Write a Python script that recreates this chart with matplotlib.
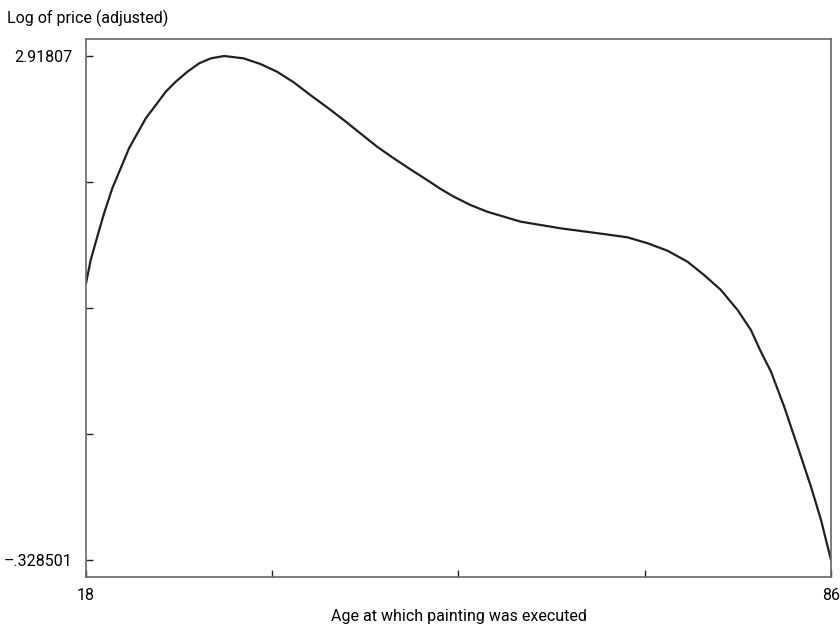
import numpy as np
import matplotlib
matplotlib.use("Agg")
import matplotlib.pyplot as plt

# curve: age at execution vs log price
age = [18.0, 18.43, 19.03, 19.65, 20.40, 21.17, 21.93, 22.69, 23.46, 24.37,
       25.28, 26.20, 27.26, 28.33, 29.40, 30.61, 32.38, 33.90, 35.43, 36.95,
       38.47, 40.00, 41.52, 43.04, 44.57, 46.09, 47.61, 49.14, 50.36, 51.54,
       53.10, 54.62, 57.67, 61.32, 63.15, 65.28, 67.42, 69.25, 71.07, 72.90,
       74.42, 75.95, 77.47, 78.69, 79.60, 80.52, 81.73, 82.96, 84.17, 85.09, 86.0]
logprice = [1.454, 1.604, 1.754, 1.905, 2.066, 2.195, 2.324, 2.420, 2.517, 2.602,
            2.688, 2.753, 2.817, 2.871, 2.903, 2.918, 2.903, 2.867, 2.817, 2.749,
            2.667, 2.588, 2.506, 2.420, 2.334, 2.259, 2.188, 2.119, 2.062, 2.013,
            1.958, 1.915, 1.851, 1.808, 1.791, 1.771, 1.750, 1.712, 1.664, 1.593,
            1.507, 1.411, 1.282, 1.153, 1.013, 0.885, 0.659, 0.401, 0.144, -0.071,
            -0.328501]

ymax = 2.91807
ymin = -0.328501
xmin, xmax = 18, 86

plt.rcParams['font.family'] = ['Roboto', 'DejaVu Sans']

fig = plt.figure(figsize=(8.4, 6.33), dpi=100)
ax = fig.add_axes([86/840, 1-577/633, (831-86)/840, (577-39)/633])

ax.plot(age, logprice, color='#231f20', lw=1.6,
        solid_joinstyle='round', solid_capstyle='round')

ax.set_xlim(xmin, xmax)
pad = (ymax - ymin) * 17/504
ax.set_ylim(ymin - pad, ymax + pad)

ax.set_xticks(np.linspace(xmin, xmax, 5))
ax.set_xticklabels(['18', '', '', '', '86'])
ax.set_yticks(np.linspace(ymin, ymax, 5))
ax.set_yticklabels(['\u2013.328501', '', '', '', '2.91807'])

for s in ax.spines.values():
    s.set_color('#666666')
    s.set_linewidth(1.2)
ax.tick_params(direction='in', length=5, width=1, color='#222222', labelsize=11.5)
ax.tick_params(axis='y', pad=10)
ax.tick_params(axis='x', pad=8)

ax.set_xlabel('Age at which painting was executed', fontsize=11.5, labelpad=4)
fig.text(7/840, 1-18/633, 'Log of price (adjusted)', fontsize=11.5,
         ha='left', va='center')

fig.savefig('out.png', dpi=100)
